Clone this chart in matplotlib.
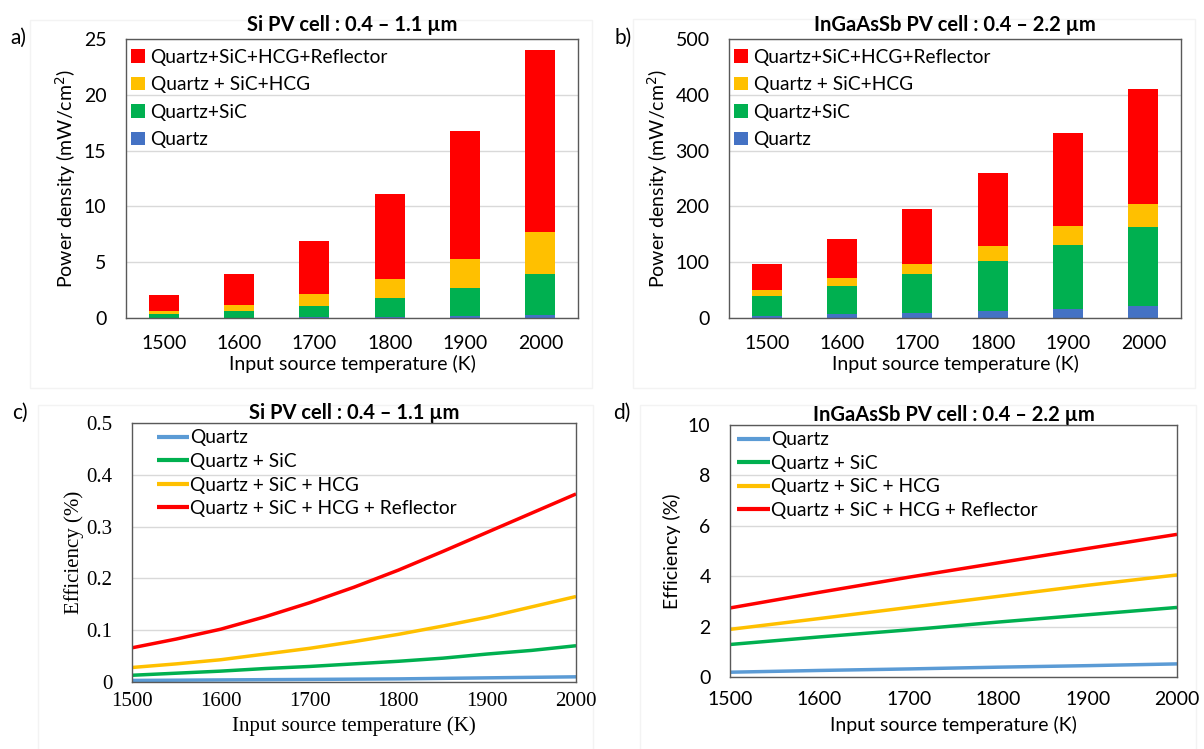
import matplotlib.pyplot as plt
from matplotlib.patches import Rectangle
import numpy as np

# ---- data ----
temps = [1500, 1600, 1700, 1800, 1900, 2000]
bar_labels = ['Quartz', 'Quartz+SiC', 'Quartz + SiC+HCG', 'Quartz+SiC+HCG+Reflector']

# power density totals (mW/cm^2), Si cell
si_quartz = [0.02, 0.04, 0.06, 0.10, 0.20, 0.30]
si_sic = [0.33, 0.63, 1.10, 1.80, 2.72, 3.92]
si_hcg = [0.60, 1.20, 2.15, 3.47, 5.30, 7.72]
si_refl = [2.06, 3.95, 6.88, 11.12, 16.80, 24.04]

# power density totals (mW/cm^2), InGaAsSb cell
ig_quartz = [4.0, 6.6, 9.0, 12.0, 16.1, 21.0]
ig_sic = [40.0, 57.4, 78.3, 102.9, 131.6, 163.3]
ig_hcg = [49.6, 71.8, 97.5, 128.6, 164.5, 204.0]
ig_refl = [97.5, 141.0, 195.6, 259.0, 330.7, 410.3]

# efficiency (%), Si cell
eff_t = [1500, 1550, 1600, 1650, 1700, 1750, 1800, 1850, 1900, 1950, 2000]
si_eff_quartz = [0.003, 0.0035, 0.004, 0.0045, 0.005, 0.0055, 0.006, 0.007, 0.008, 0.009, 0.010]
si_eff_sic = [0.013, 0.017, 0.021, 0.026, 0.030, 0.035, 0.040, 0.046, 0.054, 0.061, 0.070]
si_eff_hcg = [0.028, 0.035, 0.043, 0.054, 0.065, 0.078, 0.092, 0.108, 0.125, 0.145, 0.165]
si_eff_refl = [0.066, 0.083, 0.102, 0.126, 0.153, 0.183, 0.216, 0.252, 0.289, 0.326, 0.363]

# efficiency (%), InGaAsSb cell
ig_eff_quartz = [0.19, 0.26, 0.32, 0.39, 0.45, 0.52]
ig_eff_sic = [1.29, 1.59, 1.87, 2.18, 2.47, 2.76]
ig_eff_hcg = [1.89, 2.32, 2.76, 3.20, 3.64, 4.05]
ig_eff_refl = [2.74, 3.36, 3.96, 4.53, 5.10, 5.66]

line_labels = ['Quartz', 'Quartz + SiC', 'Quartz + SiC + HCG', 'Quartz + SiC + HCG + Reflector']

bar_colors = ['#4472C4', '#00B050', '#FFC000', '#FF0000']
line_colors = ['#5B9BD5', '#00B050', '#FFC000', '#FF0000']

SANS = 'Lato'
SERIF = 'Liberation Serif'
plt.rcParams['font.family'] = SANS

W, H = 1204, 749
fig = plt.figure(figsize=(W / 100, H / 100), dpi=100)


def px_axes(x0, y0, x1, y1):
    # pixel box (top-left origin) -> figure axes
    return fig.add_axes([x0 / W, 1 - y1 / H, (x1 - x0) / W, (y1 - y0) / H])


# faint panel frames, behind everything
for x0, y0, x1, y1 in [(30, 20, 592, 388), (633, 19, 1195, 388),
                       (38, 405, 593, 760), (640, 405, 1196, 760)]:
    fig.patches.append(Rectangle((x0 / W, 1 - y1 / H), (x1 - x0) / W, (y1 - y0) / H,
                                 transform=fig.transFigure, fill=False,
                                 edgecolor='#F3F3F3', linewidth=1.0, zorder=-5))

ax_a = px_axes(126, 39, 578, 318)
ax_b = px_axes(729, 39, 1181, 318)
ax_c = px_axes(132, 423, 576, 682)
ax_d = px_axes(730, 425, 1177, 677)
for ax in (ax_a, ax_b, ax_c, ax_d):
    ax.patch.set_alpha(0)


def style_box(ax):
    for s in ax.spines.values():
        s.set_color('#595959')
        s.set_linewidth(1.0)
    ax.grid(axis='y', color='#D9D9D9', linewidth=1.0)
    ax.set_axisbelow(True)


def bar_panel(ax, series, ymax, step, title):
    x = np.arange(len(temps))
    # tallest drawn first, the rest over it
    for vals, c, lab in reversed(list(zip(series, bar_colors, bar_labels))):
        ax.bar(x, vals, width=0.4, color=c, label=lab, zorder=2)
    ax.set_xlim(-0.5, len(temps) - 0.5)
    ax.set_ylim(0, ymax)
    ax.set_yticks(np.arange(0, ymax + step / 2, step))
    ax.set_xticks(x)
    ax.set_xticklabels([str(t) for t in temps])
    ax.tick_params(axis='both', length=0, labelsize=14)
    ax.tick_params(axis='x', pad=12)
    ax.tick_params(axis='y', pad=14)
    ax.set_ylabel('Power density (mW/cm$^2$)', fontsize=14, labelpad=4)
    ax.set_xlabel('Input source temperature (K)', fontsize=14, labelpad=2)
    ax.set_title(title, fontsize=14.5, fontweight='bold', pad=6)
    style_box(ax)
    ax.legend(loc='upper left', bbox_to_anchor=(0.012, 0.965), frameon=False,
              fontsize=13.8, handlelength=0.7, handleheight=0.7,
              handletextpad=0.3, labelspacing=0.55, borderaxespad=0, borderpad=0)


def line_panel(ax, xs, series, ymax, step, title, serif, anchor_x):
    for vals, c, lab in zip(series, line_colors, line_labels):
        ax.plot(xs, vals, color=c, linewidth=2.5, label=lab, solid_capstyle='butt')
    ax.set_xlim(1500, 2000)
    ax.set_ylim(0, ymax)
    ax.set_yticks(np.arange(0, ymax + step / 2, step))
    ax.set_xticks(temps)
    fam = SERIF if serif else SANS
    ax.tick_params(axis='both', length=0, labelsize=15 if serif else 14)
    ax.tick_params(axis='x', pad=7 if serif else 10)
    ax.tick_params(axis='y', pad=14)
    for lbl in ax.get_xticklabels() + ax.get_yticklabels():
        lbl.set_family(fam)
    ax.set_ylabel('Efficiency (%)', fontsize=15 if serif else 14, family=fam,
                  labelpad=2 if serif else 5)
    ax.set_xlabel('Input source temperature (K)', fontsize=15 if serif else 14,
                  family=fam, labelpad=4 if serif else 6)
    ax.set_title(title, fontsize=14.5, fontweight='bold', pad=2)
    style_box(ax)
    leg = ax.legend(loc='upper left', bbox_to_anchor=(anchor_x, 0.975), frameon=False,
                    fontsize=13.8, handlelength=1.7, handletextpad=0.05,
                    labelspacing=0.34, borderaxespad=0, borderpad=0)
    for h in leg.get_lines():
        h.set_linewidth(3.0)


bar_panel(ax_a, [si_quartz, si_sic, si_hcg, si_refl], 25, 5,
          'Si PV cell : 0.4 – 1.1 µm')
bar_panel(ax_b, [ig_quartz, ig_sic, ig_hcg, ig_refl], 500, 100,
          'InGaAsSb PV cell : 0.4 – 2.2 µm')
line_panel(ax_c, eff_t, [si_eff_quartz, si_eff_sic, si_eff_hcg, si_eff_refl], 0.5, 0.1,
           'Si PV cell : 0.4 – 1.1 µm', True, 0.056)
line_panel(ax_d, temps, [ig_eff_quartz, ig_eff_sic, ig_eff_hcg, ig_eff_refl], 10, 2,
           'InGaAsSb PV cell : 0.4 – 2.2 µm', False, 0.016)

ax_c.yaxis.set_major_formatter(plt.FuncFormatter(lambda v, p: '0' if v == 0 else f'{v:.1f}'))

for lab, x, y in [('a)', 10, 38), ('b)', 614, 38), ('c)', 12, 413), ('d)', 613, 413)]:
    fig.text(x / W, 1 - y / H, lab, fontsize=15, va='center', ha='left')

fig.savefig('out.png', dpi=100)
